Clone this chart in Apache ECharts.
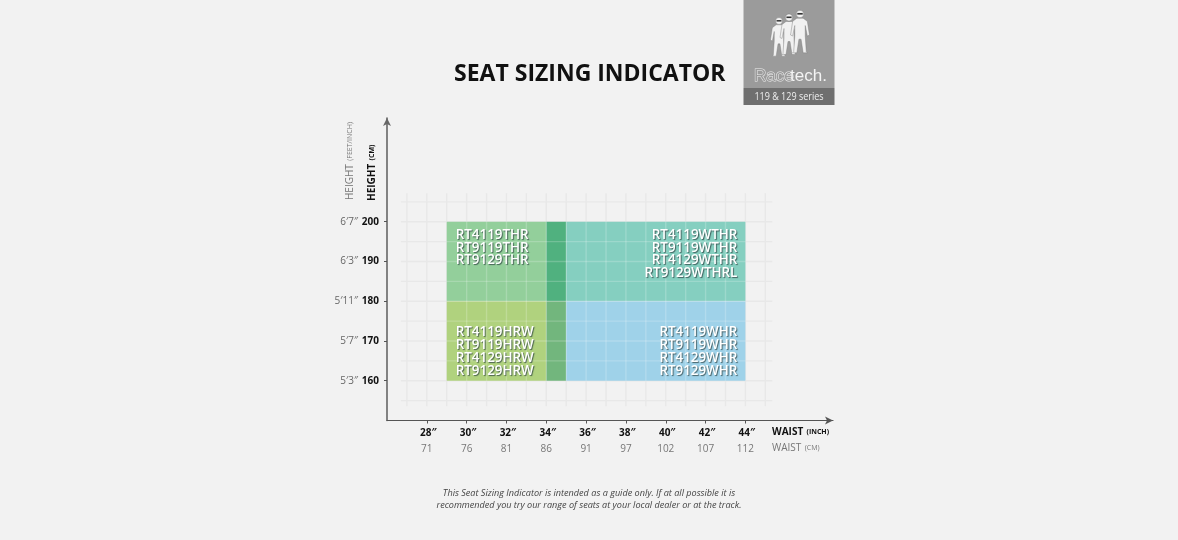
<!DOCTYPE html>
<html>
<head>
<meta charset="utf-8">
<style>
  html, body { margin: 0; padding: 0; background: #f2f2f2; }
  #chart { width: 1178px; height: 540px; }
</style>
<script src="https://cdn.jsdelivr.net/npm/echarts@6/dist/echarts.min.js"></script>
</head>
<body>
<div id="chart"></div>
<script>
// axis ticks
const waistInches = [28, 30, 32, 34, 36, 38, 40, 42, 44];
const waistCm = [71, 76, 81, 86, 91, 97, 102, 107, 112];
const heightCm = [160, 170, 180, 190, 200];
const heightFeet = ['5′3″', '5′7″', '5′11″', '6′3″', '6′7″'];

// faint guide lines
const waistGuides = [27, 28, 29, 30, 31, 32, 33, 34, 35, 36, 37, 38, 39, 40, 41, 42, 43, 44, 45];
const heightGuides = [155, 160, 165, 170, 175, 180, 185, 190, 195, 200, 205];

// size blocks: waist from, waist to, height from, height to
const sizeBlocks = [
  [29, 34, 180, 200],
  [34, 35, 180, 200],
  [35, 44, 180, 200],
  [29, 34, 160, 180],
  [34, 35, 160, 180],
  [35, 44, 160, 180]
];

// seat codes
const regularTall = ['RT4119THR', 'RT9119THR', 'RT9129THR'];
const wideTall = ['RT4119WTHR', 'RT9119WTHR', 'RT4129WTHR', 'RT9129WTHRL'];
const regularShort = ['RT4119HRW', 'RT9119HRW', 'RT4129HRW', 'RT9129HRW'];
const wideShort = ['RT4119WHR', 'RT9119WHR', 'RT4129WHR', 'RT9129WHR'];

const blockColors = ['#93cf9b', '#50b17f', '#85cfc0', '#b0d27e', '#72b67d', '#9fd2e9'];
const FONT = '"Open Sans", "Noto Sans", sans-serif';

// guide lines, lines inside the blocks get a light colour
function guideSeries(color, z, x0, x1, y0, y1, xs, ys) {
  const data = xs.map(v => ['v', v]).concat(ys.map(v => ['h', v]));
  return {
    type: 'custom',
    coordinateSystem: 'cartesian2d',
    silent: true,
    clip: false,
    z: z,
    encode: { x: 1 },
    data: data,
    renderItem: (params, api) => {
      const dir = data[params.dataIndex][0];
      const v = data[params.dataIndex][1];
      const a = dir === 'v' ? api.coord([v, y0]) : api.coord([x0, v]);
      const b = dir === 'v' ? api.coord([v, y1]) : api.coord([x1, v]);
      return {
        type: 'line',
        shape: { x1: a[0], y1: a[1], x2: b[0], y2: b[1] },
        style: { stroke: color, lineWidth: 1.4 }
      };
    }
  };
}

// seat code column, anchored on a corner of a block
function codeText(api, lines, waist, height, align, dx, dy) {
  const p = api.coord([waist, height]);
  return {
    type: 'text',
    x: p[0] + dx,
    y: p[1] + dy,
    style: {
      text: lines.join('\n'),
      font: '600 13.4px ' + FONT,
      lineHeight: 12.7,
      fill: '#ffffff',
      align: align,
      textShadowColor: 'rgba(40,60,60,0.75)',
      textShadowBlur: 1,
      textShadowOffsetX: 1,
      textShadowOffsetY: 1
    }
  };
}

// small race suit figure of the logo
function driver(x, y, s) {
  return {
    type: 'group', x: x, y: y, scaleX: s, scaleY: s, z: 10,
    children: [
      {
        type: 'polygon',
        shape: { points: [[-3, 4], [3, 4], [7, 7], [9, 20], [7, 21], [5, 11], [5, 21], [6, 36], [7, 37], [3, 37], [1, 24], [-1, 24], [-3, 37], [-7, 37], [-6, 36], [-5, 21], [-5, 11], [-7, 21], [-9, 20], [-7, 7]] },
        style: { fill: '#f1f1f1', stroke: '#777777', lineWidth: 0.4 }
      },
      { type: 'circle', shape: { cx: 0, cy: 0, r: 3.6 }, style: { fill: '#f4f4f4', stroke: '#666666', lineWidth: 0.4 } },
      { type: 'rect', shape: { x: -2.6, y: -1, width: 5.2, height: 1.6 }, style: { fill: '#333333' } }
    ]
  };
}

const option = {
  backgroundColor: '#f2f2f2',
  animation: false,
  textStyle: { fontFamily: FONT },
  grid: { left: 387, top: 118, width: 446, height: 302.5 },
  xAxis: {
    type: 'value',
    min: 26,
    max: 48.4,
    interval: 2,
    splitLine: { show: false },
    axisLine: {
      onZero: false,
      symbol: ['none', 'arrow'],
      symbolSize: [6, 8],
      lineStyle: { color: '#555555', width: 1.2 }
    },
    axisTick: { customValues: waistInches, length: 3, lineStyle: { color: '#555555' } },
    axisLabel: {
      customValues: waistInches,
      margin: 5,
      showMinLabel: true,
      showMaxLabel: true,
      formatter: v => '{a|' + v + '″}\n{b|' + waistCm[waistInches.indexOf(v)] + '}',
      rich: {
        a: { fontFamily: FONT, fontWeight: 700, fontSize: 10, color: '#111111', lineHeight: 16, padding: [0, 0, 0, 3] },
        b: { fontFamily: FONT, fontWeight: 400, fontSize: 10, color: '#777777', lineHeight: 16 }
      }
    }
  },
  yAxis: {
    type: 'value',
    min: 150,
    max: 226.1,
    interval: 10,
    splitLine: { show: false },
    axisLine: {
      onZero: false,
      symbol: ['none', 'arrow'],
      symbolSize: [6, 8],
      lineStyle: { color: '#666666', width: 1.6 }
    },
    axisTick: { customValues: heightCm, length: 3, lineStyle: { color: '#555555' } },
    axisLabel: {
      customValues: heightCm,
      margin: 8,
      formatter: v => '{a|' + heightFeet[heightCm.indexOf(v)] + '}{b|' + v + '}',
      rich: {
        a: { fontFamily: FONT, fontWeight: 400, fontSize: 10, color: '#666666', width: 28, align: 'right' },
        b: { fontFamily: FONT, fontWeight: 700, fontSize: 10, color: '#111111', width: 21, align: 'right' }
      }
    }
  },
  series: [
    guideSeries('#e8e8e8', 1, 26.7, 45.35, 153.6, 207.2, waistGuides, heightGuides),
    {
      type: 'custom',
      coordinateSystem: 'cartesian2d',
      silent: true,
      clip: false,
      z: 2,
      encode: { x: [0, 1], y: [2, 3] },
      data: sizeBlocks,
      renderItem: (params, api) => {
        const a = api.coord([api.value(0), api.value(3)]);
        const b = api.coord([api.value(1), api.value(2)]);
        return {
          type: 'rect',
          shape: { x: a[0], y: a[1], width: b[0] - a[0], height: b[1] - a[1] },
          style: { fill: blockColors[params.dataIndex] }
        };
      }
    },
    guideSeries('rgba(255,255,255,0.2)', 3, 29, 44, 160, 200,
      waistGuides.filter(v => v > 29 && v < 44),
      heightGuides.filter(v => v > 160 && v < 200)),
    {
      type: 'custom',
      coordinateSystem: 'cartesian2d',
      silent: true,
      clip: false,
      z: 4,
      encode: { x: 0, y: 1 },
      data: [[29, 200]],
      renderItem: (params, api) => ({
        type: 'group',
        children: [
          codeText(api, regularTall, 29, 200, 'left', 9, 7),
          codeText(api, wideTall, 44, 200, 'right', -8, 7),
          codeText(api, regularShort, 29, 180, 'left', 9, 25),
          codeText(api, wideShort, 44, 180, 'right', -8, 25)
        ]
      })
    }
  ],
  graphic: [
    // title and notes
    { type: 'text', x: 454, y: 74, style: { text: 'SEAT SIZING INDICATOR', font: '700 23px ' + FONT, fill: '#111111', verticalAlign: 'middle' } },
    { type: 'text', x: 589, y: 493, style: { text: 'This Seat Sizing Indicator is intended as a guide only. If at all possible it is', font: 'italic 400 9.1px ' + FONT, fill: '#444444', align: 'center', verticalAlign: 'middle' } },
    { type: 'text', x: 589, y: 505, style: { text: 'recommended you try our range of seats at your local dealer or at the track.', font: 'italic 400 9.1px ' + FONT, fill: '#444444', align: 'center', verticalAlign: 'middle' } },
    // axis names
    {
      type: 'text', x: 772, y: 432,
      style: {
        text: '{a|WAIST} {b|(INCH)}', verticalAlign: 'middle',
        rich: { a: { font: '700 10px ' + FONT, fill: '#111111' }, b: { font: '700 7px ' + FONT, fill: '#111111' } }
      }
    },
    {
      type: 'text', x: 772, y: 448,
      style: {
        text: '{a|WAIST} {b|(CM)}', verticalAlign: 'middle',
        rich: { a: { font: '400 10px ' + FONT, fill: '#777777' }, b: { font: '400 7px ' + FONT, fill: '#777777' } }
      }
    },
    {
      type: 'text', x: 372, y: 201, rotation: Math.PI / 2,
      style: {
        text: '{a|HEIGHT} {b|(CM)}', verticalAlign: 'middle',
        rich: { a: { font: '700 10px ' + FONT, fill: '#111111' }, b: { font: '700 7px ' + FONT, fill: '#111111' } }
      }
    },
    {
      type: 'text', x: 350, y: 200, rotation: Math.PI / 2,
      style: {
        text: '{a|HEIGHT} {b|(FEET/INCH)}', verticalAlign: 'middle',
        rich: { a: { font: '400 10px ' + FONT, fill: '#777777' }, b: { font: '400 7px ' + FONT, fill: '#777777' } }
      }
    },
    // logo
    { type: 'rect', shape: { x: 743.5, y: 0, width: 91, height: 88 }, style: { fill: '#9b9b9b' } },
    { type: 'rect', shape: { x: 743.5, y: 88, width: 91, height: 17 }, style: { fill: '#6f6f6f' } },
    driver(779, 21, 0.95),
    driver(789, 17.5, 1),
    driver(800, 14, 1.05),
    { type: 'text', x: 754, y: 76, style: { text: 'Race', font: '400 17px "Liberation Sans", sans-serif', fill: '#9b9b9b', stroke: '#eeeeee', lineWidth: 1, verticalAlign: 'middle' } },
    { type: 'text', x: 790, y: 76, style: { text: 'tech.', font: '400 17px "Liberation Sans", sans-serif', fill: '#f4f4f4', verticalAlign: 'middle' } },
    { type: 'text', x: 789, y: 97, scaleX: 0.82, style: { text: '119 & 129 series', font: '400 11px "Open Sans", sans-serif', fill: '#eeeeee', align: 'center', verticalAlign: 'middle' } }
  ]
};

const chart = echarts.init(document.getElementById('chart'));
chart.setOption(option);
</script>
</body>
</html>
